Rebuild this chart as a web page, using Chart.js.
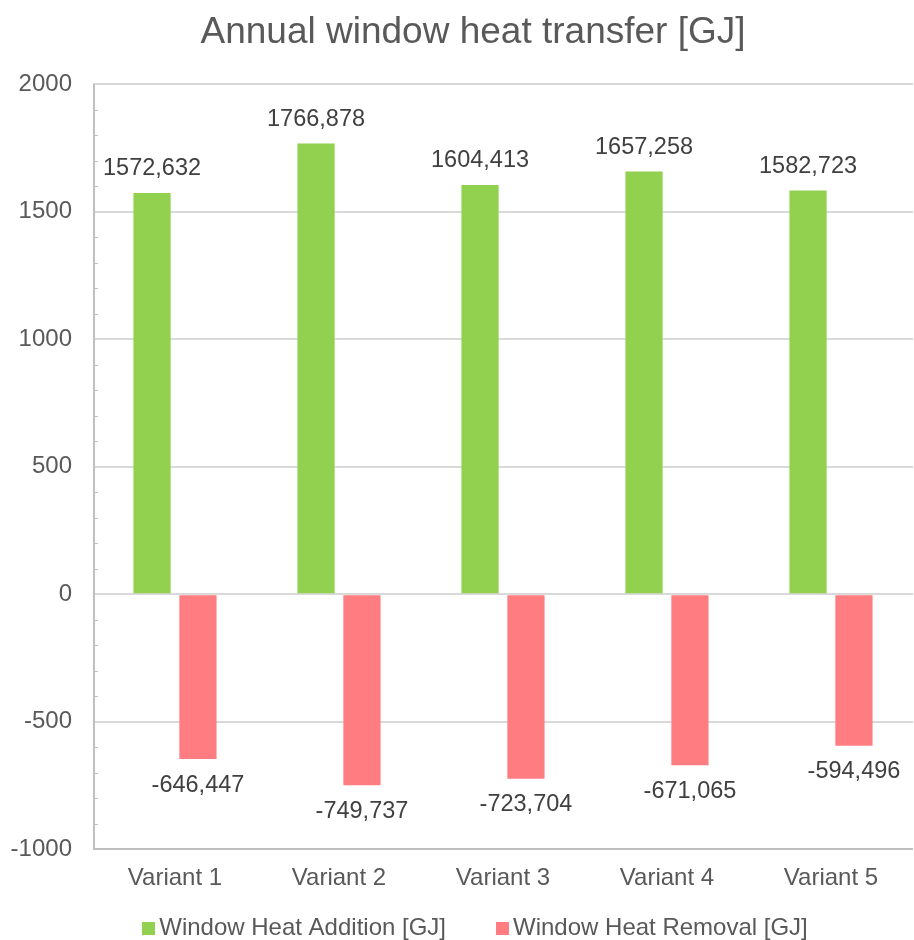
<!DOCTYPE html>
<html>
<head>
<meta charset="utf-8">
<script src="https://cdn.jsdelivr.net/npm/chart.js@4"></script>
<style>
  html, body { margin: 0; padding: 0; background: #fff; }
  #wrap { width: 914px; height: 940px; }
</style>
</head>
<body>
<div id="wrap"><canvas id="chart" width="914" height="940"></canvas></div>
<script>
const variants = ["Variant 1", "Variant 2", "Variant 3", "Variant 4", "Variant 5"];
const heatAddition = [1572.632, 1766.878, 1604.413, 1657.258, 1582.723];
const heatRemoval = [-646.447, -749.737, -723.704, -671.065, -594.496];
const yTicks = [-1000, -500, 0, 500, 1000, 1500, 2000];
const chartTitle = "Annual window heat transfer [GJ]";

const FONT = "'Liberation Sans', Arial, sans-serif";

// values written with a comma, like the original
function fmt(v) {
  return v.toFixed(3).replace(".", ",");
}

const barLabels = {
  id: "barLabels",
  afterDatasetsDraw(chart) {
    const ctx = chart.ctx;
    ctx.save();
    ctx.font = "23.5px " + FONT;
    ctx.fillStyle = "#404040";
    ctx.textAlign = "center";
    ctx.textBaseline = "middle";
    chart.data.datasets.forEach((ds, i) => {
      chart.getDatasetMeta(i).data.forEach((bar, j) => {
        const v = ds.data[j];
        const y = v >= 0 ? bar.y - 24 : bar.y + 26;
        ctx.fillText(fmt(v), bar.x, y);
      });
    });
    ctx.restore();
  }
};

// small inside ticks every 100 on the value axis + axis lines
const minorTicks = {
  id: "minorTicks",
  afterDraw(chart) {
    const y = chart.scales.y;
    const ctx = chart.ctx;
    ctx.save();
    ctx.strokeStyle = "#bfbfbf";
    ctx.lineWidth = 1;
    for (let v = y.min; v <= y.max; v += 100) {
      if (v % 500 === 0) continue;
      const py = Math.round(y.getPixelForValue(v)) + 0.5;
      ctx.beginPath();
      ctx.moveTo(y.right, py);
      ctx.lineTo(y.right + 5, py);
      ctx.stroke();
    }
    ctx.lineWidth = 2;
    ctx.beginPath();
    ctx.moveTo(y.right + 1, chart.chartArea.top);
    ctx.lineTo(y.right + 1, chart.chartArea.bottom);
    ctx.moveTo(y.right, Math.round(chart.chartArea.bottom));
    ctx.lineTo(chart.chartArea.right, Math.round(chart.chartArea.bottom));
    ctx.stroke();
    ctx.restore();
  }
};

// title and legend drawn by hand: both are centred a bit left of the plot
const titleAndLegend = {
  id: "titleAndLegend",
  afterDraw(chart) {
    const ctx = chart.ctx;
    ctx.save();
    ctx.textBaseline = "middle";
    ctx.fillStyle = "#595959";
    ctx.font = "37px " + FONT;
    ctx.textAlign = "center";
    ctx.fillText(chartTitle, 473, 33);

    ctx.textAlign = "left";
    ctx.font = "24px " + FONT;
    const items = chart.data.datasets.map(ds => ({
      text: ds.label, color: ds.backgroundColor, w: ctx.measureText(ds.label).width
    }));
    const box = 13, gap = 4, spacing = 50;
    let total = 0;
    items.forEach((it, i) => { total += box + gap + it.w + (i ? spacing : 0); });
    let x = 475 - total / 2;
    const cy = 928;
    items.forEach(it => {
      ctx.fillStyle = it.color;
      ctx.fillRect(Math.round(x), Math.round(cy - box / 2), box, box);
      ctx.fillStyle = "#595959";
      ctx.fillText(it.text, x + box + gap, cy);
      x += box + gap + it.w + spacing;
    });
    ctx.restore();
  }
};

new Chart(document.getElementById("chart"), {
  type: "bar",
  data: {
    labels: variants,
    datasets: [
      {
        label: "Window Heat Addition [GJ]",
        data: heatAddition,
        backgroundColor: "#92d050",
        categoryPercentage: 0.56,
        barPercentage: 0.81
      },
      {
        label: "Window Heat Removal [GJ]",
        data: heatRemoval,
        backgroundColor: "#ff7c80",
        categoryPercentage: 0.56,
        barPercentage: 0.81
      }
    ]
  },
  options: {
    responsive: false,
    animation: false,
    layout: { padding: { left: 0, right: 1, top: 84, bottom: 32 } },
    plugins: {
      title: { display: false },
      legend: { display: false },
      tooltip: { enabled: false }
    },
    scales: {
      x: {
        grid: { display: false, drawTicks: false },
        border: { display: false },
        ticks: {
          color: "#595959",
          font: { family: FONT, size: 24 },
          padding: 15
        }
      },
      y: {
        min: -1000,
        max: 2000,
        afterBuildTicks(scale) {
          scale.ticks = yTicks.map(v => ({ value: v }));
        },
        afterFit(scale) {
          scale.width = 93;
        },
        grid: { color: "#d9d9d9", lineWidth: 2, drawTicks: false },
        border: { display: false },
        ticks: {
          color: "#595959",
          font: { family: FONT, size: 24 },
          padding: 21,
          callback: v => String(v)
        }
      }
    }
  },
  plugins: [barLabels, minorTicks, titleAndLegend]
});
</script>
</body>
</html>
